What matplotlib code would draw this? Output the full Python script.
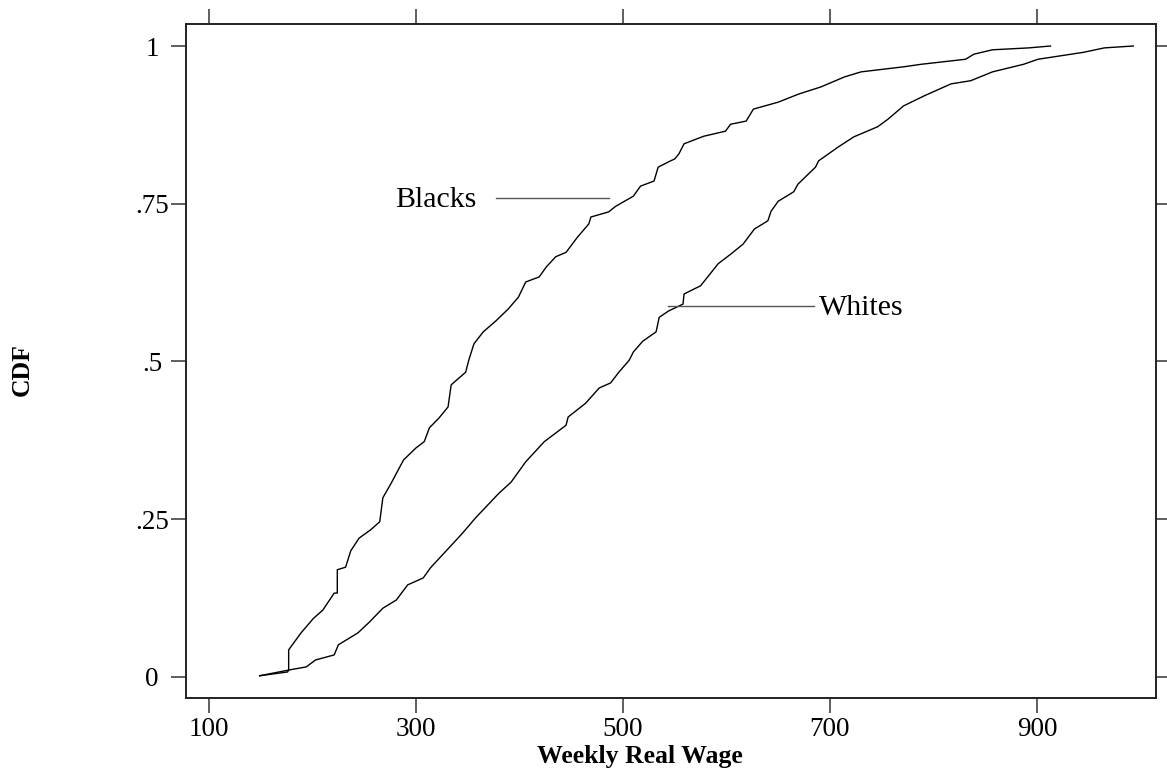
import matplotlib
matplotlib.use("Agg")
import matplotlib.pyplot as plt

blacks_wage = [149, 176, 177, 177, 189, 201, 210, 221, 224, 224, 232, 237, 245, 256, 265, 268,
               276, 288, 300, 308, 313, 322, 331, 334, 348, 351, 356, 365, 377, 389, 399, 406,
               419, 426, 435, 445, 456, 467, 469, 486, 493, 510, 517, 530, 534, 546, 550, 554,
               559, 578, 599, 604, 619, 626, 650, 670, 691, 714, 730, 771, 788, 831, 839, 857,
               892, 913]
blacks_cdf = [0.002, 0.008, 0.011, 0.043, 0.070, 0.093, 0.106, 0.133, 0.133, 0.170, 0.174, 0.200,
              0.220, 0.233, 0.246, 0.284, 0.307, 0.344, 0.363, 0.373, 0.395, 0.410, 0.428, 0.463,
              0.483, 0.502, 0.528, 0.547, 0.564, 0.583, 0.602, 0.626, 0.634, 0.650, 0.666, 0.673,
              0.697, 0.718, 0.729, 0.737, 0.746, 0.762, 0.778, 0.786, 0.808, 0.818, 0.821, 0.829,
              0.845, 0.857, 0.865, 0.876, 0.881, 0.900, 0.911, 0.924, 0.935, 0.951, 0.959, 0.967,
              0.971, 0.979, 0.987, 0.994, 0.997, 1.000]

whites_wage = [149, 177, 194, 203, 221, 225, 244, 255, 268, 281, 292, 307, 314, 336, 345, 358,
               365, 380, 392, 406, 424, 445, 447, 464, 477, 488, 496, 506, 510, 519, 532, 535,
               544, 558, 559, 575, 592, 604, 616, 627, 640, 643, 650, 665, 669, 686, 689, 708,
               723, 746, 756, 771, 791, 817, 836, 857, 887, 901, 921, 945, 965, 993]
whites_cdf = [0.002, 0.011, 0.016, 0.027, 0.035, 0.051, 0.070, 0.087, 0.109, 0.122, 0.146, 0.157,
              0.173, 0.212, 0.228, 0.253, 0.265, 0.291, 0.309, 0.341, 0.373, 0.399, 0.412, 0.434,
              0.458, 0.466, 0.483, 0.502, 0.515, 0.532, 0.547, 0.570, 0.580, 0.591, 0.607, 0.620,
              0.655, 0.670, 0.686, 0.710, 0.723, 0.738, 0.754, 0.769, 0.781, 0.808, 0.818, 0.840,
              0.856, 0.872, 0.884, 0.905, 0.921, 0.940, 0.945, 0.959, 0.971, 0.979, 0.984, 0.990,
              0.997, 1.000]

x_ticks = [100, 300, 500, 700, 900]
y_ticks = [0, 0.25, 0.5, 0.75, 1]
y_ticklabels = ["0", ".25", ".5", ".75", "1"]

plt.rcParams['font.family'] = ['Liberation Serif', 'DejaVu Serif']

fig = plt.figure(figsize=(11.67, 7.76), dpi=100)
ax = fig.add_axes([0.1591, 0.1005, 0.8315, 0.8686])

ax.plot(blacks_wage, blacks_cdf, color='black', lw=1.0)
ax.plot(whites_wage, whites_cdf, color='black', lw=1.0)

# label connector lines
ax.plot([377, 486.5], [0.759, 0.759], color='#555555', lw=1.0)
ax.plot([543.5, 684.5], [0.588, 0.588], color='#555555', lw=1.0)
ax.text(358, 0.756, "Blacks", ha='right', va='center', fontsize=21.5)
ax.text(689, 0.584, "Whites", ha='left', va='center', fontsize=21.5)

ax.set_xlim(77.5, 1015)
ax.set_ylim(-0.0333, 1.0349)
ax.set_xticks(x_ticks)
ax.set_xticklabels([str(v) for v in x_ticks])
ax.set_yticks(y_ticks)
ax.set_yticklabels(y_ticklabels)

for s in ax.spines.values():
    s.set_linewidth(1.4)
    s.set_color('#222222')

ax.tick_params(axis='both', which='major', direction='out', length=10.8, width=1.1,
               color='#333333', top=True, right=True, labelsize=19.5)
ax.tick_params(axis='x', pad=3.2)
ax.tick_params(axis='y', pad=13.5)
for lab in ax.get_yticklabels():
    lab.set_ha('center')

fig.text(640 / 1167, 1 - 756 / 776, "Weekly Real Wage", ha='center', va='center',
         fontsize=18.5, fontweight='bold')
fig.text(22 / 1167, 1 - 370 / 776, "CDF", ha='center', va='center', rotation=90,
         fontsize=18.5, fontweight='bold')

fig.savefig("out.png", dpi=100)
